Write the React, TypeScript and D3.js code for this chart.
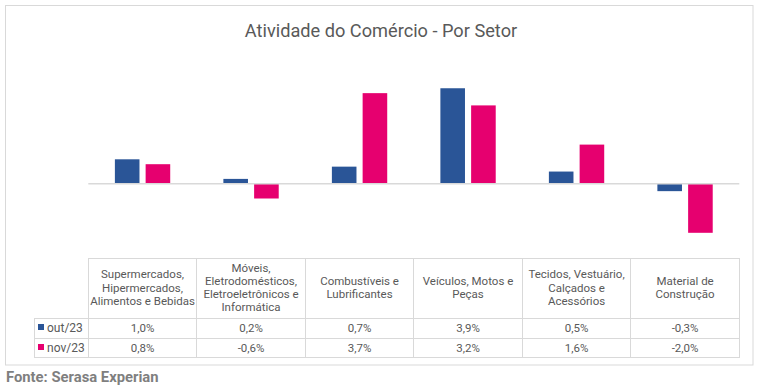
import React from "react";
import * as d3 from "d3";

const categoryLines = [
  ["Supermercados,", "Hipermercados,", "Alimentos e Bebidas"],
  ["Móveis,", "Eletrodomésticos,", "Eletroeletrônicos e", "Informática"],
  ["Combustíveis e", "Lubrificantes"],
  ["Veículos, Motos e", "Peças"],
  ["Tecidos, Vestuário,", "Calçados e", "Acessórios"],
  ["Material de", "Construção"],
];
const categories = categoryLines.map((l) => l.join(" "));
const seriesNames = ["out/23", "nov/23"];
const outValues = [1.0, 0.2, 0.7, 3.9, 0.5, -0.3];
const novValues = [0.8, -0.6, 3.7, 3.2, 1.6, -2.0];
const seriesColors = ["#2A5597", "#E6006F"];

const W = 760;
const H = 392;
const textColor = "#595959";
const gridColor = "#D9D9D9";
const fmt = (v: number) => v.toFixed(1).replace(".", ",") + "%";

export default function App() {
  const values = [outValues, novValues];
  const x0 = d3.scaleBand().domain(categories).range([88.3, 739.3]);
  const bw = x0.bandwidth();
  const x1 = d3
    .scaleBand()
    .domain(seriesNames)
    .range([bw * 0.245, bw * 0.755])
    .paddingInner(0.2);
  const y = d3.scaleLinear().domain([-3, 5]).range([257.3, 61.3]);

  const tableTop = 258;
  const row1 = 318;
  const row2 = 338;
  const tableBottom = 357.5;
  const legendLeft = 34;
  const lineH = 13.3;
  const headerCenter = 287.5;

  return (
    <div style={{ position: "absolute", left: 0, top: 0 }}>
      <svg width={W} height={H} style={{ display: "block", fontFamily: "Roboto, sans-serif" }}>
        <rect x={0} y={0} width={W} height={H} fill="#fff" />
        <rect x={5.5} y={5.5} width={747.5} height={359.5} fill="none" stroke={gridColor} strokeWidth={1} />
        <text x={381} y={37} textAnchor="middle" fontSize={18.2} fill={textColor}>
          Atividade do Comércio - Por Setor
        </text>

        {/* bars */}
        {categories.map((c, i) => (
          <g key={c} transform={`translate(${x0(c)},0)`}>
            {seriesNames.map((s, j) => {
              const v = values[j][i];
              return (
                <rect
                  key={s}
                  x={x1(s)}
                  width={x1.bandwidth()}
                  y={Math.min(y(v), y(0))}
                  height={Math.abs(y(v) - y(0))}
                  fill={seriesColors[j]}
                />
              );
            })}
          </g>
        ))}
        <line x1={88.3} x2={739.3} y1={y(0)} y2={y(0)} stroke={gridColor} strokeWidth={1.5} />

        {/* data table */}
        <g stroke={gridColor} strokeWidth={1} shapeRendering="crispEdges">
          <line x1={88.3} x2={739.3} y1={tableTop} y2={tableTop} />
          <line x1={legendLeft} x2={739.3} y1={row1} y2={row1} />
          <line x1={legendLeft} x2={739.3} y1={row2} y2={row2} />
          <line x1={legendLeft} x2={739.3} y1={tableBottom} y2={tableBottom} />
          <line x1={legendLeft} x2={legendLeft} y1={row1} y2={tableBottom} />
          {categories.map((c) => (
            <line key={c} x1={x0(c)} x2={x0(c)} y1={tableTop} y2={tableBottom} />
          ))}
          <line x1={739.3} x2={739.3} y1={tableTop} y2={tableBottom} />
        </g>
        <g fontSize={11.5} fill={textColor} textAnchor="middle">
          {categoryLines.map((lines, i) => {
            const cx = (x0(categories[i]) ?? 0) + bw / 2;
            const startY = headerCenter - ((lines.length - 1) * lineH) / 2 + 4;
            return (
              <text key={i} x={cx} y={startY}>
                {lines.map((l, k) => (
                  <tspan key={k} x={cx} dy={k === 0 ? 0 : lineH}>
                    {l}
                  </tspan>
                ))}
              </text>
            );
          })}
          {seriesNames.map((s, j) =>
            categories.map((c, i) => (
              <text key={s + c} x={(x0(c) ?? 0) + bw / 2} y={(j === 0 ? row1 : row2) + 14}>
                {fmt(values[j][i])}
              </text>
            ))
          )}
        </g>
        {seriesNames.map((s, j) => (
          <g key={s}>
            <rect x={38} y={(j === 0 ? row1 : row2) + 6} width={6} height={6} fill={seriesColors[j]} />
            <text x={47} y={(j === 0 ? row1 : row2) + 14} fontSize={12} fill={textColor}>
              {s}
            </text>
          </g>
        ))}

        <text x={6} y={382} fontSize={14.8} fontWeight="bold" fill="#7F7F7F">
          Fonte: Serasa Experian
        </text>
      </svg>
    </div>
  );
}
